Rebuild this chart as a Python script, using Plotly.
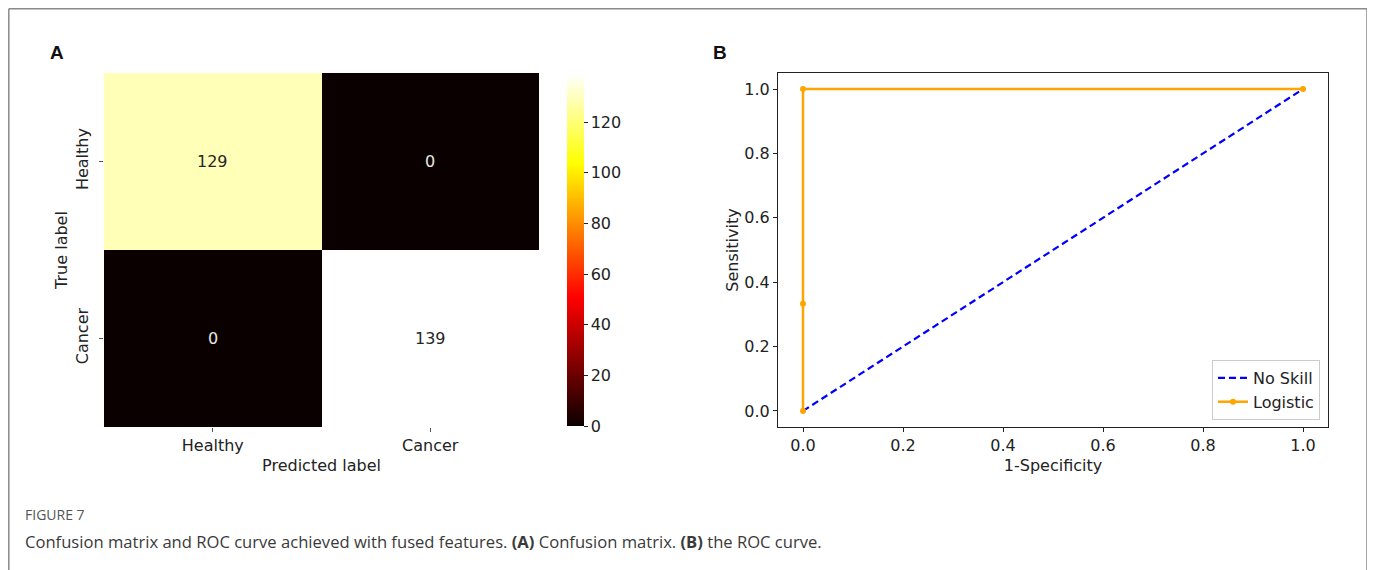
import plotly.graph_objects as go

# ---- data ----
pred_labels = ["Healthy", "Cancer"]
true_labels = ["Healthy", "Cancer"]
cm_values = [[129, 0], [0, 139]]

noskill_fpr = [0.0, 1.0]
noskill_tpr = [0.0, 1.0]
logistic_fpr = [0.0, 0.0, 0.0, 1.0]
logistic_tpr = [0.0, 0.333, 1.0, 1.0]

cbar_ticks = [0, 20, 40, 60, 80, 100, 120]
roc_ticks = [0.0, 0.2, 0.4, 0.6, 0.8, 1.0]

W, H = 1375, 570
OFF = 8  # page body margin offset
FONT = "DejaVu Sans"

def px(x):
    return (x - OFF) / W

def py(y):
    return 1 - (y - OFF) / H

hot = [
    [0.0, "rgb(11,0,0)"],
    [0.365079, "rgb(255,0,0)"],
    [0.746032, "rgb(255,255,0)"],
    [1.0, "rgb(255,255,255)"],
]

fig = go.Figure()

zmax = max(max(r) for r in cm_values)
fig.add_trace(go.Heatmap(
    z=cm_values, x=pred_labels, y=true_labels,
    colorscale=hot, zmin=0, zmax=zmax,
    xaxis="x", yaxis="y", showscale=True, hoverinfo="z",
    colorbar=dict(
        x=px(567), xanchor="left", xpad=0, y=py(250), yanchor="middle", ypad=0,
        len=352 / H, lenmode="fraction", thickness=17, thicknessmode="pixels",
        outlinewidth=0, ticks="outside", ticklen=4, tickcolor="#222",
        tickvals=cbar_ticks, tickfont=dict(family=FONT, size=16, color="#222"),
    ),
))

# cell annotations
for i, tl in enumerate(true_labels):
    for j, pl in enumerate(pred_labels):
        v = cm_values[i][j]
        col = "#262626" if v / zmax > 0.5 else "#e8e8e8"
        fig.add_annotation(x=pl, y=tl, xref="x", yref="y", text=str(v),
                           showarrow=False, font=dict(family=FONT, size=16, color=col))

fig.add_trace(go.Scatter(
    x=noskill_fpr, y=noskill_tpr, mode="lines", name="No Skill",
    line=dict(color="#0000ff", width=2.2, dash="7px,4px"),
    xaxis="x2", yaxis="y2",
))
fig.add_trace(go.Scatter(
    x=logistic_fpr, y=logistic_tpr, mode="lines+markers", name="Logistic",
    line=dict(color="#ffa500", width=2.5), marker=dict(color="#ffa500", size=6),
    xaxis="x2", yaxis="y2",
))

axis_font = dict(family=FONT, size=16, color="#222")

fig.update_layout(
    width=W, height=H, margin=dict(l=0, r=0, t=0, b=0),
    paper_bgcolor="white", plot_bgcolor="white",
    font=dict(family=FONT, size=16, color="#222"),
    xaxis=dict(domain=[px(104), px(539)], anchor="y", showgrid=False, zeroline=False,
               ticks="outside", ticklen=4, tickcolor="#555", showline=False,
               tickfont=axis_font,
               title=dict(text="Predicted label", font=axis_font, standoff=5)),
    yaxis=dict(domain=[py(427), py(73)], anchor="x", showgrid=False, zeroline=False,
               autorange="reversed", ticks="outside", ticklen=4, tickcolor="#555",
               tickangle=-90, tickfont=axis_font, ticklabelstandoff=5,
               title=dict(text="True label", font=axis_font, standoff=0)),
    xaxis2=dict(domain=[px(778), px(1328)], anchor="y2", range=[-0.05, 1.05],
                showgrid=False, zeroline=False, showline=True, linecolor="#222", linewidth=1,
                mirror=True, ticks="outside", ticklen=4, tickcolor="#222",
                tickvals=roc_ticks, tickformat=".1f", tickfont=axis_font,
                title=dict(text="1-Specificity", font=axis_font, standoff=5)),
    yaxis2=dict(domain=[py(427), py(73)], anchor="x2", range=[-0.05, 1.05],
                showgrid=False, zeroline=False, showline=True, linecolor="#222", linewidth=1,
                mirror=True, ticks="outside", ticklen=4, tickcolor="#222",
                tickvals=roc_ticks, tickformat=".1f", tickfont=axis_font,
                title=dict(text="Sensitivity", font=axis_font, standoff=1)),
    legend=dict(x=px(1320), xanchor="right", y=py(420), yanchor="bottom",
                bgcolor="rgba(255,255,255,0.9)", bordercolor="#cccccc", borderwidth=1,
                font=dict(family=FONT, size=16, color="#222"),
                tracegroupgap=0, itemwidth=30),
    showlegend=True,
)

# panel labels
fig.add_annotation(x=px(48), y=py(52), xref="paper", yref="paper", text="<b>A</b>",
                   showarrow=False, xanchor="left", yanchor="middle",
                   font=dict(family="Liberation Sans", size=19, color="#111"))
fig.add_annotation(x=px(711), y=py(52), xref="paper", yref="paper", text="<b>B</b>",
                   showarrow=False, xanchor="left", yanchor="middle",
                   font=dict(family="Liberation Sans", size=19, color="#111"))

# caption
fig.add_annotation(x=px(23), y=py(514), xref="paper", yref="paper", text="FIGURE 7",
                   showarrow=False, xanchor="left", yanchor="middle",
                   font=dict(family="Open Sans", size=14, color="#555"))
fig.add_annotation(x=px(23), y=py(541), xref="paper", yref="paper",
                   text="Confusion matrix and ROC curve achieved with fused features. <b>(A)</b> Confusion matrix. <b>(B)</b> the ROC curve.",
                   showarrow=False, xanchor="left", yanchor="middle",
                   font=dict(family="Open Sans", size=16.6, color="#3a3a3a"))

# outer frame
LC = dict(color="#8a8a8a", width=1.5)
fig.add_shape(type="line", xref="paper", yref="paper", x0=px(8.8), x1=px(8.8), y0=-0.05, y1=py(8.8), line=LC)
fig.add_shape(type="line", xref="paper", yref="paper", x0=px(8.8), x1=px(1367), y0=py(8.8), y1=py(8.8), line=LC)
fig.add_shape(type="line", xref="paper", yref="paper", x0=px(1367), x1=px(1367), y0=-0.05, y1=py(8.8), line=LC)

fig.write_html("out.html")
